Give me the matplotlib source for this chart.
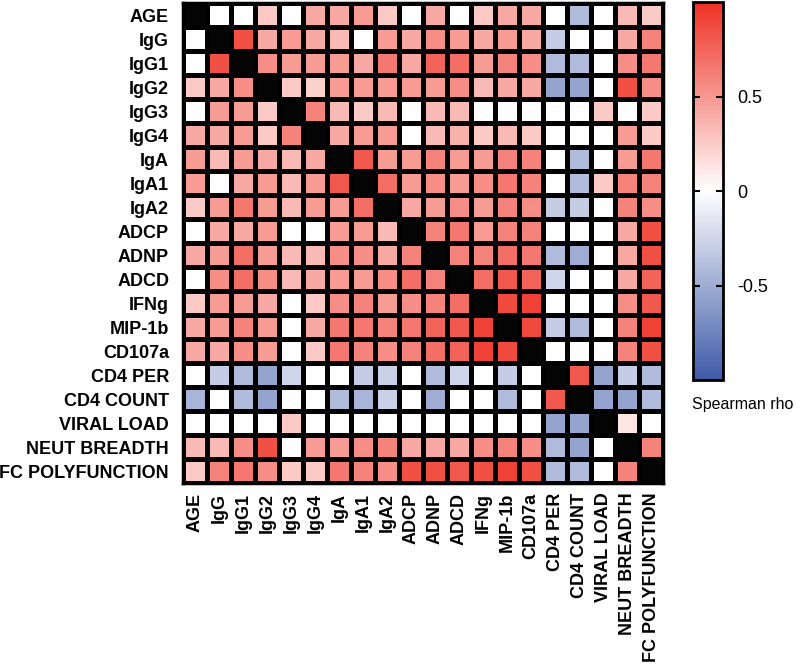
import numpy as np
import matplotlib
matplotlib.use("Agg")
import matplotlib.pyplot as plt
from matplotlib.colors import LinearSegmentedColormap

plt.rcParams['font.family'] = ['Liberation Sans', 'DejaVu Sans']

labels = ["AGE", "IgG", "IgG1", "IgG2", "IgG3", "IgG4", "IgA", "IgA1", "IgA2",
          "ADCP", "ADNP", "ADCD", "IFNg", "MIP-1b", "CD107a", "CD4 PER",
          "CD4 COUNT", "VIRAL LOAD", "NEUT BREADTH", "FC POLYFUNCTION"]

N = np.nan
row_age   = [N, 0, 0, 0.25, 0, 0.42, 0.42, 0.48, 0.25, 0, 0.42, 0, 0.25, 0.42, 0.42, 0, -0.4, 0, 0.33, 0.25]
row_igg   = [0, N, 0.85, 0.42, 0.48, 0.42, 0.33, 0, 0.48, 0.42, 0.55, 0.48, 0.42, 0.48, 0.42, -0.3, 0, 0, 0.42, 0.6]
row_igg1  = [0, 0.85, N, 0.55, 0.48, 0.48, 0.48, 0.42, 0.65, 0.42, 0.75, 0.7, 0.48, 0.6, 0.55, -0.4, -0.4, 0, 0.55, 0.65]
row_igg2  = [0.25, 0.42, 0.55, N, 0.25, 0.22, 0.48, 0.48, 0.48, 0.48, 0.48, 0.55, 0.33, 0.42, 0.42, -0.55, -0.55, 0, 0.85, 0.55]
row_igg3  = [0, 0.48, 0.48, 0.25, N, 0.6, 0.33, 0.25, 0.33, 0, 0.33, 0.33, 0, 0, 0, 0, 0, 0.25, 0, 0.25]
row_igg4  = [0.42, 0.42, 0.48, 0.25, 0.6, N, 0.42, 0.48, 0.48, 0, 0.33, 0.38, 0.25, 0.33, 0.25, 0, 0, 0, 0.48, 0.25]
row_iga   = [0.48, 0.33, 0.48, 0.42, 0.33, 0.42, N, 0.8, 0.48, 0.48, 0.6, 0.48, 0.48, 0.6, 0.6, 0, -0.4, 0, 0.48, 0.65]
row_iga1  = [0.48, 0, 0.42, 0.48, 0.33, 0.48, 0.8, N, 0.7, 0.48, 0.55, 0.48, 0.55, 0.65, 0.6, 0, -0.4, 0.25, 0.6, 0.6]
row_iga2  = [0.25, 0.48, 0.65, 0.48, 0.33, 0.48, 0.48, 0.7, N, 0.42, 0.48, 0.55, 0.48, 0.6, 0.55, -0.3, -0.3, 0, 0.6, 0.55]
row_adcp  = [0, 0.42, 0.42, 0.48, 0, 0, 0.48, 0.48, 0.33, N, 0.6, 0.65, 0.48, 0.6, 0.6, 0, 0, 0, 0.42, 0.85]
row_adnp  = [0.42, 0.48, 0.7, 0.48, 0.33, 0.33, 0.55, 0.55, 0.42, 0.6, N, 0.6, 0.6, 0.7, 0.65, -0.4, -0.5, 0, 0.42, 0.85]
row_adcd  = [0, 0.55, 0.7, 0.55, 0.33, 0.42, 0.48, 0.48, 0.55, 0.7, 0.6, N, 0.7, 0.8, 0.75, -0.25, 0, 0, 0.42, 0.75]
row_ifng  = [0.25, 0.48, 0.48, 0.42, 0, 0.25, 0.55, 0.6, 0.48, 0.55, 0.6, 0.7, N, 0.88, 0.92, 0, 0, 0, 0.55, 0.8]
row_mip   = [0.42, 0.48, 0.6, 0.48, 0, 0.42, 0.65, 0.65, 0.6, 0.65, 0.75, 0.8, 0.92, N, 0.88, -0.3, -0.4, 0, 0.6, 0.92]
row_cd107 = [0.42, 0.42, 0.55, 0.48, 0, 0.25, 0.65, 0.6, 0.55, 0.6, 0.7, 0.75, 0.92, 0.88, N, 0, 0, 0, 0.6, 0.85]
row_cd4p  = [0, -0.3, -0.4, -0.55, -0.25, 0, 0, -0.3, -0.28, 0, -0.4, -0.25, 0, -0.3, 0, N, 0.8, -0.55, -0.3, -0.4]
row_cd4c  = [-0.45, 0, -0.4, -0.55, 0, 0, -0.4, -0.45, -0.28, 0, -0.5, 0, 0, -0.4, 0, 0.8, N, -0.55, -0.55, -0.4]
row_vl    = [0, 0, 0, 0, 0.25, 0, 0, 0, 0, 0, 0, 0, 0, 0, 0, -0.55, -0.55, N, 0.12, 0]
row_neut  = [0.33, 0.33, 0.55, 0.85, 0, 0.48, 0.48, 0.55, 0.6, 0.42, 0.42, 0.42, 0.55, 0.6, 0.55, -0.4, -0.55, 0, N, 0.6]
row_fcp   = [0.25, 0.6, 0.65, 0.55, 0.25, 0.25, 0.65, 0.6, 0.55, 0.85, 0.85, 0.8, 0.85, 0.92, 0.85, -0.4, -0.4, 0, 0.6, N]

rows = [row_age, row_igg, row_igg1, row_igg2, row_igg3, row_igg4, row_iga, row_iga1,
        row_iga2, row_adcp, row_adnp, row_adcd, row_ifng, row_mip, row_cd107,
        row_cd4p, row_cd4c, row_vl, row_neut, row_fcp]
M = np.ma.masked_invalid(np.array(rows, dtype=float))

cmap = LinearSegmentedColormap.from_list(
    "rb", [(0.0, "#3f5aa8"), (0.5, "#ffffff"), (1.0, "#ee3124")])
cmap.set_bad("#050505")

fig = plt.figure(figsize=(8, 6.65), dpi=100)
ax = fig.add_axes([183/800, 1-483/665, 480/800, 480/665])
n = len(labels)
mesh = ax.pcolormesh(np.arange(n+1), np.arange(n+1), M, cmap=cmap, vmin=-1, vmax=1,
                     edgecolors="black", linewidth=2.2)
ax.set_xlim(0, n)
ax.set_ylim(n, 0)
ax.set_xticks(np.arange(n) + 0.5)
ax.set_yticks(np.arange(n) + 0.5)
ax.set_xticklabels(labels, rotation=90, fontsize=13, fontweight="bold")
ax.set_yticklabels(labels, fontsize=13, fontweight="bold")
ax.tick_params(axis="y", length=0, pad=10)
ax.tick_params(axis="x", length=0, pad=7)
for s in ax.spines.values():
    s.set_linewidth(2.5)
    s.set_color("black")

cax = fig.add_axes([693/800, 1-380/665, 30/800, 378/665])
cb = fig.colorbar(mesh, cax=cax)
cb.set_ticks([-0.5, 0, 0.5])
cb.set_ticklabels(["-0.5", "0", "0.5"])
cax.tick_params(direction="in", length=5, width=1.5, labelsize=13, left=True, right=True, pad=10)
cb.outline.set_linewidth(2)
fig.text(743/800, 1-405/665, "Spearman rho", ha="center", va="center", fontsize=11.5)

fig.savefig("out.png", dpi=100)
